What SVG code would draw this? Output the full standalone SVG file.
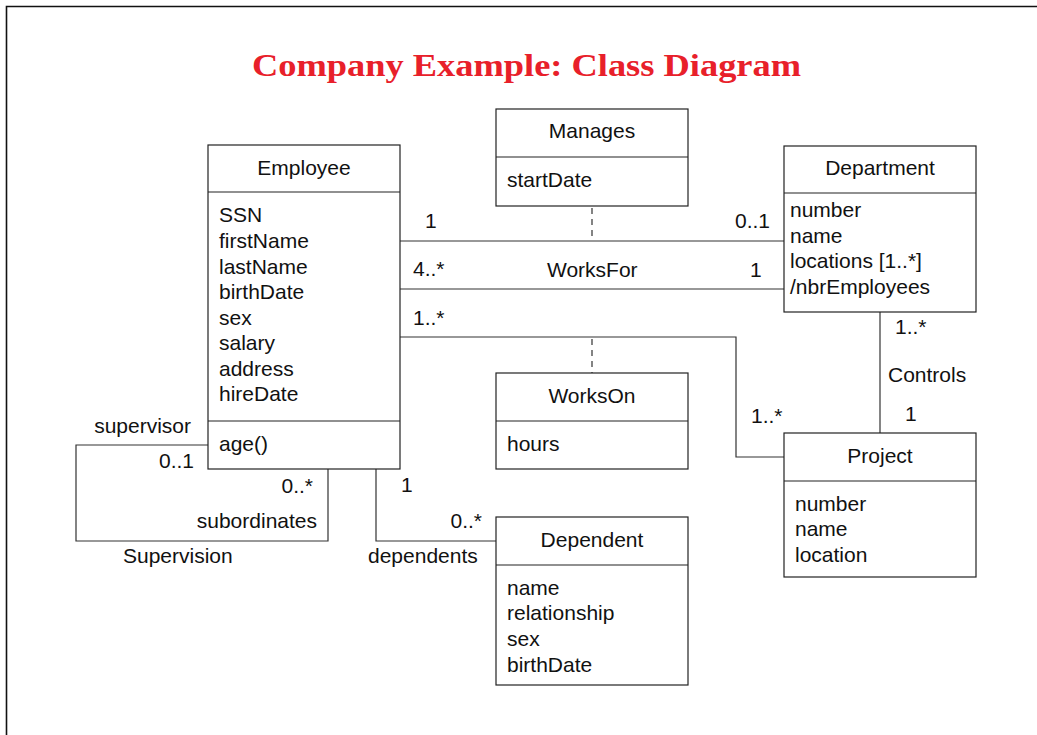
<svg xmlns="http://www.w3.org/2000/svg" width="1037" height="735" viewBox="0 0 1037 735">
<style>
.box{fill:#fff;stroke:#222;stroke-width:1.2}
.ln{fill:none;stroke:#333;stroke-width:1.2}
.dash{fill:none;stroke:#333;stroke-width:1.2;stroke-dasharray:6,5}
text{font-family:"Liberation Sans",Arial,sans-serif;font-size:21px;fill:#111}
.c{text-anchor:middle}
.r{text-anchor:end}
.title{font-family:"Liberation Serif","Times New Roman",serif;font-size:32px;font-weight:bold;fill:#e8202a}
</style>
<rect width="1037" height="735" fill="#fff"/>
<path d="M6.5,735 V6.5 H1037" fill="none" stroke="#111" stroke-width="1.6"/>
<text class="title" x="252" y="76" textLength="549" lengthAdjust="spacingAndGlyphs">Company Example: Class Diagram</text>

<g id="connectors">
  <line class="ln" x1="400" y1="241" x2="784" y2="241"/>
  <line class="ln" x1="400" y1="289" x2="784" y2="289"/>
  <polyline class="ln" points="400,337 736,337 736,457 784,457"/>
  <line class="dash" x1="592" y1="208" x2="592" y2="241"/>
  <line class="dash" x1="592" y1="339" x2="592" y2="373"/>
  <line class="ln" x1="880" y1="312" x2="880" y2="433"/>
  <polyline class="ln" points="208,445 76,445 76,541 328,541 328,469"/>
  <polyline class="ln" points="376,469 376,541 496,541"/>
  <text x="425" y="228">1</text>
  <text class="r" x="770" y="228">0..1</text>
  <text x="413" y="276">4..*</text>
  <text x="547" y="277">WorksFor</text>
  <text x="750" y="277">1</text>
  <text x="413" y="325">1..*</text>
  <text x="751" y="423">1..*</text>
  <text x="895" y="334">1..*</text>
  <text x="888" y="382">Controls</text>
  <text x="905" y="421">1</text>
  <text class="r" x="191" y="433">supervisor</text>
  <text class="r" x="194" y="468">0..1</text>
  <text class="r" x="313" y="493">0..*</text>
  <text class="r" x="317" y="528">subordinates</text>
  <text x="123" y="563">Supervision</text>
  <text x="401" y="492">1</text>
  <text class="r" x="482" y="528">0..*</text>
  <text x="368" y="563">dependents</text>
</g>

<g id="Employee">
  <rect class="box" x="208" y="145" width="192" height="324"/>
  <line class="box" x1="208" y1="192" x2="400" y2="192"/>
  <line class="box" x1="208" y1="421" x2="400" y2="421"/>
  <text class="c" x="304" y="175">Employee</text>
  <text x="219" y="222">SSN</text>
  <text x="219" y="248">firstName</text>
  <text x="219" y="274">lastName</text>
  <text x="219" y="299">birthDate</text>
  <text x="219" y="325">sex</text>
  <text x="219" y="350">salary</text>
  <text x="219" y="376">address</text>
  <text x="219" y="401">hireDate</text>
  <text x="219" y="451">age()</text>
</g>

<g id="Manages">
  <rect class="box" x="496" y="109" width="192" height="97"/>
  <line class="box" x1="496" y1="157" x2="688" y2="157"/>
  <text class="c" x="592" y="138">Manages</text>
  <text x="507" y="187">startDate</text>
</g>

<g id="Department">
  <rect class="box" x="784" y="146" width="192" height="166"/>
  <line class="box" x1="784" y1="193" x2="976" y2="193"/>
  <text class="c" x="880" y="175">Department</text>
  <text x="790" y="217">number</text>
  <text x="790" y="243">name</text>
  <text x="790" y="268">locations [1..*]</text>
  <text x="790" y="294">/nbrEmployees</text>
</g>

<g id="WorksOn">
  <rect class="box" x="496" y="373" width="192" height="96"/>
  <line class="box" x1="496" y1="421" x2="688" y2="421"/>
  <text class="c" x="592" y="403">WorksOn</text>
  <text x="507" y="451">hours</text>
</g>

<g id="Project">
  <rect class="box" x="784" y="433" width="192" height="144"/>
  <line class="box" x1="784" y1="481" x2="976" y2="481"/>
  <text class="c" x="880" y="463">Project</text>
  <text x="795" y="511">number</text>
  <text x="795" y="536">name</text>
  <text x="795" y="562">location</text>
</g>

<g id="Dependent">
  <rect class="box" x="496" y="517" width="192" height="168"/>
  <line class="box" x1="496" y1="565" x2="688" y2="565"/>
  <text class="c" x="592" y="547">Dependent</text>
  <text x="507" y="595">name</text>
  <text x="507" y="620">relationship</text>
  <text x="507" y="646">sex</text>
  <text x="507" y="672">birthDate</text>
</g>
</svg>
